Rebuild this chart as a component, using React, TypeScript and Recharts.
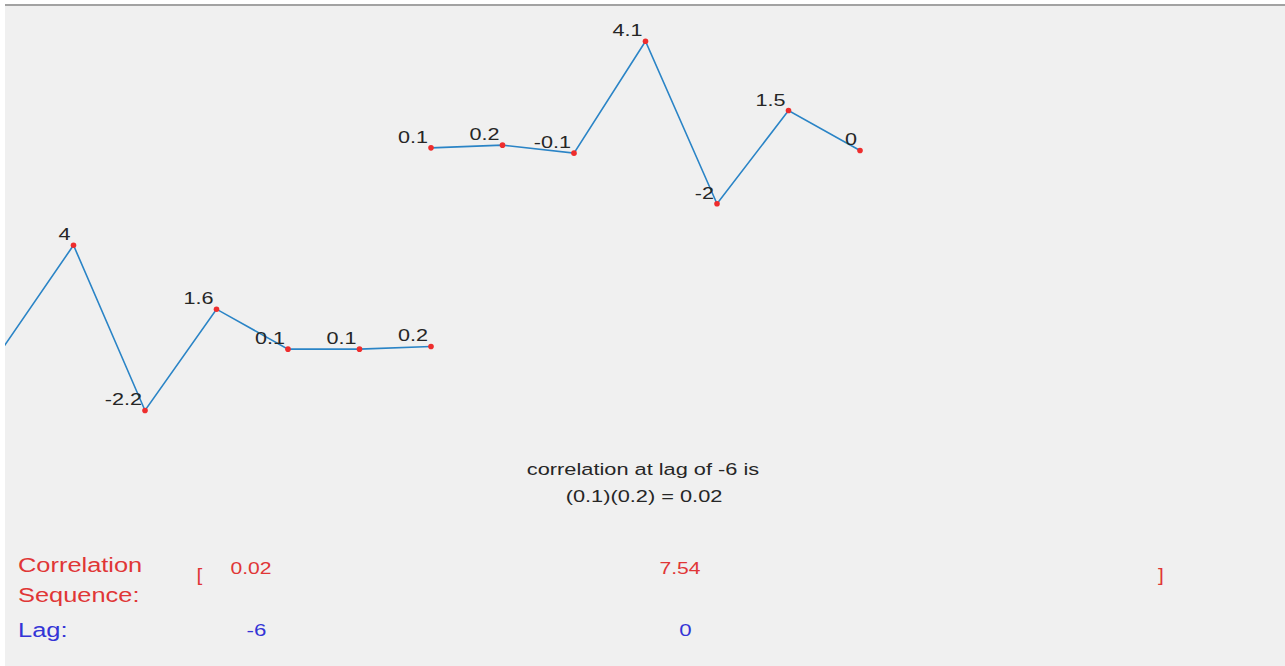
import { LineChart, Line, XAxis, YAxis, LabelList } from 'recharts';

// x1 stays put, x2 is slid across it (shown here at lag -6)
const sampleIndex = [0, 1, 2, 3, 4, 5, 6];
const fixedValues = [0.1, 0.2, -0.1, 4.1, -2, 1.5, 0];
const shiftedValues = [0.1, 4, -2.2, 1.6, 0.1, 0.1, 0.2];
const currentLag = -6;

// correlation sequence entries filled in so far
const shownLags = [-6, 0];
const shownCorr = [0.02, 7.54];

const FONT = '"Liberation Sans", Arial, sans-serif';
const STRETCH = 1.31;
const RED = '#e03636';
const BLUE = '#3434d6';

const topData = sampleIndex.map((i) => ({ n: i, v: fixedValues[i] }));
const bottomData = sampleIndex.map((i) => ({ n: i + currentLag, v: shiftedValues[i] }));
const corrData = shownLags.map((lag, i) => ({ lag, corr: shownCorr[i] }));

function PointLabel(props: any) {
  const { x, y, value } = props;
  // the first shifted sample sits past the left edge, its label is not shown
  if (x == null || y == null || x < 10) return null;
  return (
    <text
      transform={`translate(${x - 3} ${y - 5}) scale(${STRETCH} 1)`}
      textAnchor="end"
      fontFamily={FONT}
      fontSize={16.5}
      fill="#262626"
    >
      {String(value)}
    </text>
  );
}

// one entry of the correlation sequence written above its lag
function CorrLabel(props: any) {
  const { x, index, value } = props;
  if (x == null) return null;
  return (
    <g>
      <text
        transform={`translate(${x} 568) scale(1.32 1)`}
        textAnchor="middle"
        fontFamily={FONT}
        fontSize={16}
        fill={RED}
      >
        {String(value)}
      </text>
      <text
        transform={`translate(${x + 5.5} 629.5) scale(1.35 1)`}
        textAnchor="middle"
        fontFamily={FONT}
        fontSize={16.5}
        fill={BLUE}
      >
        {String(shownLags[index])}
      </text>
    </g>
  );
}

function Txt({ x, y, size, color, anchor = 'start', sx = STRETCH, children }: any) {
  return (
    <text
      transform={`translate(${x} ${y}) scale(${sx} 1)`}
      textAnchor={anchor}
      fontFamily={FONT}
      fontSize={size}
      fill={color}
    >
      {children}
    </text>
  );
}

export default function App() {
  return (
    <div style={{ position: 'fixed', left: 0, top: 0, width: 1285, height: 666, background: '#fff' }}>
      <div
        style={{
          position: 'absolute',
          left: 5,
          top: 4,
          width: 1280,
          height: 662,
          background: '#f0f0f0',
          borderTop: '2px solid #a2a2a2',
          boxSizing: 'border-box',
        }}
      />
      <div style={{ position: 'absolute', left: 5, top: 6 }}>
        <LineChart width={1280} height={660} margin={{ top: 0, right: 0, bottom: 0, left: 0 }}>
          <XAxis xAxisId="n" dataKey="n" type="number" domain={[-5.958, 11.944]} allowDataOverflow hide />
          <XAxis xAxisId="lag" dataKey="lag" type="number" domain={[-9.441, 8.462]} allowDataOverflow hide />
          <YAxis yAxisId="top" type="number" domain={[-19.343, 5.422]} allowDataOverflow hide />
          <YAxis yAxisId="bot" type="number" domain={[-11.789, 12.976]} allowDataOverflow hide />
          <YAxis yAxisId="corr" type="number" domain={[0, 10]} allowDataOverflow hide />
          <Line
            data={topData}
            xAxisId="n"
            yAxisId="top"
            dataKey="v"
            type="linear"
            stroke="#2a84c6"
            strokeWidth={1.6}
            dot={{ r: 2.8, fill: '#ee2d2d', stroke: 'none' }}
            activeDot={false}
            isAnimationActive={false}
          >
            <LabelList dataKey="v" content={PointLabel} />
          </Line>
          <Line
            data={bottomData}
            xAxisId="n"
            yAxisId="bot"
            dataKey="v"
            type="linear"
            stroke="#2a84c6"
            strokeWidth={1.6}
            dot={{ r: 2.8, fill: '#ee2d2d', stroke: 'none' }}
            activeDot={false}
            isAnimationActive={false}
          >
            <LabelList dataKey="v" content={PointLabel} />
          </Line>
          <Line
            data={corrData}
            xAxisId="lag"
            yAxisId="corr"
            dataKey="corr"
            stroke="none"
            dot={false}
            activeDot={false}
            isAnimationActive={false}
          >
            <LabelList dataKey="corr" content={CorrLabel} />
          </Line>
        </LineChart>
      </div>
      <svg
        width={1285}
        height={666}
        style={{ position: 'absolute', left: 0, top: 0, pointerEvents: 'none' }}
      >
        <Txt x={643} y={475} size={16.5} color="#262626" anchor="middle" sx={1.32}>
          {`correlation at lag of ${currentLag} is`}
        </Txt>
        <Txt x={644} y={501.5} size={16.5} color="#262626" anchor="middle" sx={1.32}>
          {`(${fixedValues[0]})(${shiftedValues[6]}) = ${shownCorr[0]}`}
        </Txt>
        <Txt x={18} y={572} size={20} color={RED} sx={1.27}>Correlation</Txt>
        <Txt x={18} y={601.5} size={20} color={RED} sx={1.27}>Sequence:</Txt>
        <Txt x={18} y={637} size={20} color={BLUE} sx={1.27}>Lag:</Txt>
        <Txt x={199.5} y={580.5} size={19} color={RED} anchor="middle" sx={1.1}>[</Txt>
        <Txt x={1161} y={580.5} size={19} color={RED} anchor="middle" sx={1.1}>]</Txt>
      </svg>
    </div>
  );
}
